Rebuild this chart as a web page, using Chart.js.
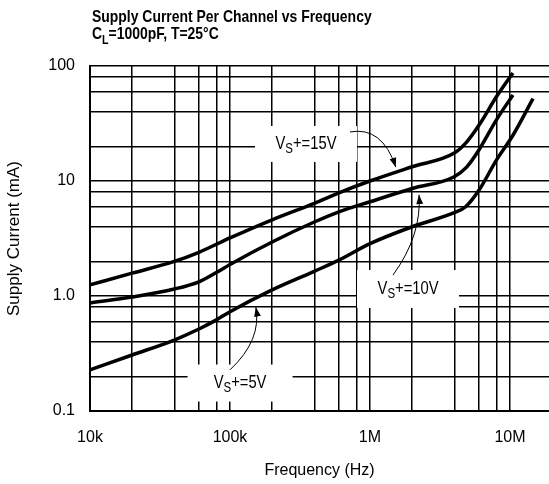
<!DOCTYPE html>
<html>
<head>
<meta charset="utf-8">
<script src="https://cdn.jsdelivr.net/npm/chart.js@4"></script>
<style>
  body { margin: 0; background: #fff; }
  #wrap { width: 549px; height: 484px; }
</style>
</head>
<body>
<div id="wrap"><canvas id="supplyChart" width="549" height="484"></canvas></div>
<script>
// data (frequency in Hz, current in mA)
const freq15 = [1e4, 2e4, 4e4, 6e4, 1e5, 2e5, 4e5, 6e5, 1e6, 2e6, 4e6, 4.9e6, 6e6, 8e6, 1.05e7];
const cur15 = [1.25, 1.58, 2.0, 2.4, 3.2, 4.6, 6.4, 7.9, 10, 13.3, 17.5, 21.8, 30.5, 54, 87];

const freq10 = [1e4, 2e4, 4e4, 6e4, 8e4, 1e5, 2e5, 4e5, 6e5, 1e6, 2e6, 4e6, 4.9e6, 6e6, 8e6, 1.05e7];
const cur10 = [0.87, 0.98, 1.15, 1.33, 1.6, 1.88, 2.95, 4.4, 5.4, 6.6, 8.6, 10.9, 13.2, 18.6, 34, 56];

const freq5 = [1e4, 2e4, 4e4, 6e4, 8e4, 1e5, 2e5, 4e5, 6e5, 1e6, 2e6, 4e6, 4.8e6, 6e6, 8e6, 1.05e7, 1.46e7];
const cur5 = [0.228, 0.307, 0.414, 0.516, 0.62, 0.73, 1.13, 1.64, 2.05, 2.85, 4.0, 5.3, 5.94, 8.3, 15.2, 25, 52];

const xGrid = [1e4, 2e4, 4e4, 6e4, 8e4, 1e5, 2e5, 4e5, 6e5, 8e5, 1e6, 2e6, 4e6, 6e6, 8e6, 1e7];
const xLabels = { 1e4: '10k', 1e5: '100k', 1e6: '1M', 1e7: '10M' };
const yGrid = [0.1, 0.2, 0.4, 0.6, 0.8, 1, 2, 4, 6, 8, 10, 20, 40, 60, 80, 100];
const yLabels = { 0.1: '0.1', 1: '1.0', 10: '10', 100: '100' };

// curve labels: text parts [text, isSubscript], box centre and arrow in data units
const notes = [
  { parts: [['V', 0], ['S', 1], ['+=15V', 0]], at: [3.49e5, 21], box: [102, 36],
    arrow: [[7.2e5, 26.7], [1.22e6, 30], [1.53e6, 13.2]] },
  { parts: [['V', 0], ['S', 1], ['+=10V', 0]], at: [1.87e6, 1.15], box: [102, 38],
    arrow: [[1.46e6, 1.52], [2.35e6, 3.39], [2.24e6, 7.6]] },
  { parts: [['V', 0], ['S', 1], ['+=5V', 0]], at: [1.18e5, 0.175], box: [105, 37],
    arrow: [[1.0e5, 0.228], [1.69e5, 0.414], [1.53e5, 0.8]] }
];

const FONT = '"Liberation Sans", Arial, sans-serif';
const NARROW = 0.82; // reference uses a condensed face

function toPoints(xs, ys) {
  return xs.map((x, i) => ({ x: x, y: ys[i] }));
}

// draws text runs with subscripts, horizontally condensed, starting at x (or centred on x)
function drawParts(ctx, parts, x, y, size, weight, centre) {
  ctx.save();
  ctx.translate(x, y);
  ctx.scale(NARROW, 1);
  const fontOf = p => weight + ' ' + (p[1] ? Math.round(size * 0.78) : size) + 'px ' + FONT;
  let widths = parts.map(p => { ctx.font = fontOf(p); return ctx.measureText(p[0]).width; });
  let cx = centre ? -widths.reduce((a, b) => a + b, 0) / 2 : 0;
  parts.forEach((p, i) => {
    ctx.font = fontOf(p);
    ctx.fillText(p[0], cx, p[1] ? size * 0.28 : 0);
    cx += widths[i];
  });
  ctx.restore();
}

const extras = {
  id: 'extras',
  afterDraw(chart) {
    const ctx = chart.ctx;
    const xs = chart.scales.x, ys = chart.scales.y;
    const px = (d) => [xs.getPixelForValue(d[0]), ys.getPixelForValue(d[1])];
    ctx.save();
    // title
    ctx.fillStyle = '#000';
    ctx.textBaseline = 'alphabetic';
    ctx.textAlign = 'left';
    drawParts(ctx, [['Supply Current Per Channel vs Frequency', 0]], 92, 22, 17, 'bold', false);
    drawParts(ctx, [['C', 0], ['L', 1], ['=1000pF, T=25°C', 0]], 92, 39, 17, 'bold', false);
    // curve labels
    notes.forEach(n => {
      const c = px(n.at);
      ctx.fillStyle = '#fff';
      ctx.fillRect(c[0] - n.box[0] / 2, c[1] - n.box[1] / 2, n.box[0], n.box[1]);
      ctx.fillStyle = '#000';
      ctx.textBaseline = 'middle';
      drawParts(ctx, n.parts, c[0], c[1], 18, 'normal', true);
      const a = n.arrow.map(px);
      ctx.strokeStyle = '#000';
      ctx.lineWidth = 1;
      ctx.beginPath();
      ctx.moveTo(a[0][0], a[0][1]);
      ctx.quadraticCurveTo(a[1][0], a[1][1], a[2][0], a[2][1]);
      ctx.stroke();
      // arrow head along the end tangent
      const ang = Math.atan2(a[2][1] - a[1][1], a[2][0] - a[1][0]);
      ctx.beginPath();
      ctx.moveTo(a[2][0], a[2][1]);
      ctx.lineTo(a[2][0] - 10 * Math.cos(ang - 0.35), a[2][1] - 10 * Math.sin(ang - 0.35));
      ctx.lineTo(a[2][0] - 10 * Math.cos(ang + 0.35), a[2][1] - 10 * Math.sin(ang + 0.35));
      ctx.closePath();
      ctx.fill();
    });
    ctx.restore();
  }
};

const lineStyle = {
  borderColor: '#000',
  borderWidth: 3.5,
  pointRadius: 0,
  fill: false,
  cubicInterpolationMode: 'monotone'
};

new Chart(document.getElementById('supplyChart'), {
  type: 'line',
  data: {
    datasets: [
      Object.assign({ label: 'VS+=15V', data: toPoints(freq15, cur15) }, lineStyle),
      Object.assign({ label: 'VS+=10V', data: toPoints(freq10, cur10) }, lineStyle),
      Object.assign({ label: 'VS+=5V', data: toPoints(freq5, cur5) }, lineStyle)
    ]
  },
  options: {
    responsive: false,
    animation: false,
    devicePixelRatio: 1,
    layout: { padding: { top: 66, right: 0, left: 0, bottom: 0 } },
    plugins: { legend: { display: false }, title: { display: false }, tooltip: { enabled: false } },
    scales: {
      x: {
        type: 'logarithmic',
        min: 1e4,
        max: 1.9e7,
        afterBuildTicks: s => { s.ticks = xGrid.map(v => ({ value: v })); },
        afterFit: s => { s.height = 73; },
        ticks: {
          autoSkip: false, maxRotation: 0, padding: 17, color: '#000',
          font: { family: FONT, size: 16 },
          callback: v => xLabels[v] || ''
        },
        grid: { color: '#000', lineWidth: 1.5, drawTicks: false },
        border: { color: '#000', width: 2 },
        title: { display: true, text: 'Frequency (Hz)', color: '#000', padding: { top: 4, bottom: 4 },
          font: { family: FONT, size: 16 } }
      },
      y: {
        type: 'logarithmic',
        min: 0.1,
        max: 100,
        afterBuildTicks: s => { s.ticks = yGrid.map(v => ({ value: v })); },
        afterFit: s => { s.width = 90; },
        ticks: {
          autoSkip: false, padding: 15, color: '#000',
          font: { family: FONT, size: 16 },
          callback: v => yLabels[v] || ''
        },
        grid: { color: '#000', lineWidth: 1.5, drawTicks: false },
        border: { color: '#000', width: 2 },
        title: { display: true, text: 'Supply Current (mA)', color: '#000', padding: { bottom: 0 },
          font: { family: FONT, size: 17 } }
      }
    }
  },
  plugins: [extras]
});
</script>
</body>
</html>
